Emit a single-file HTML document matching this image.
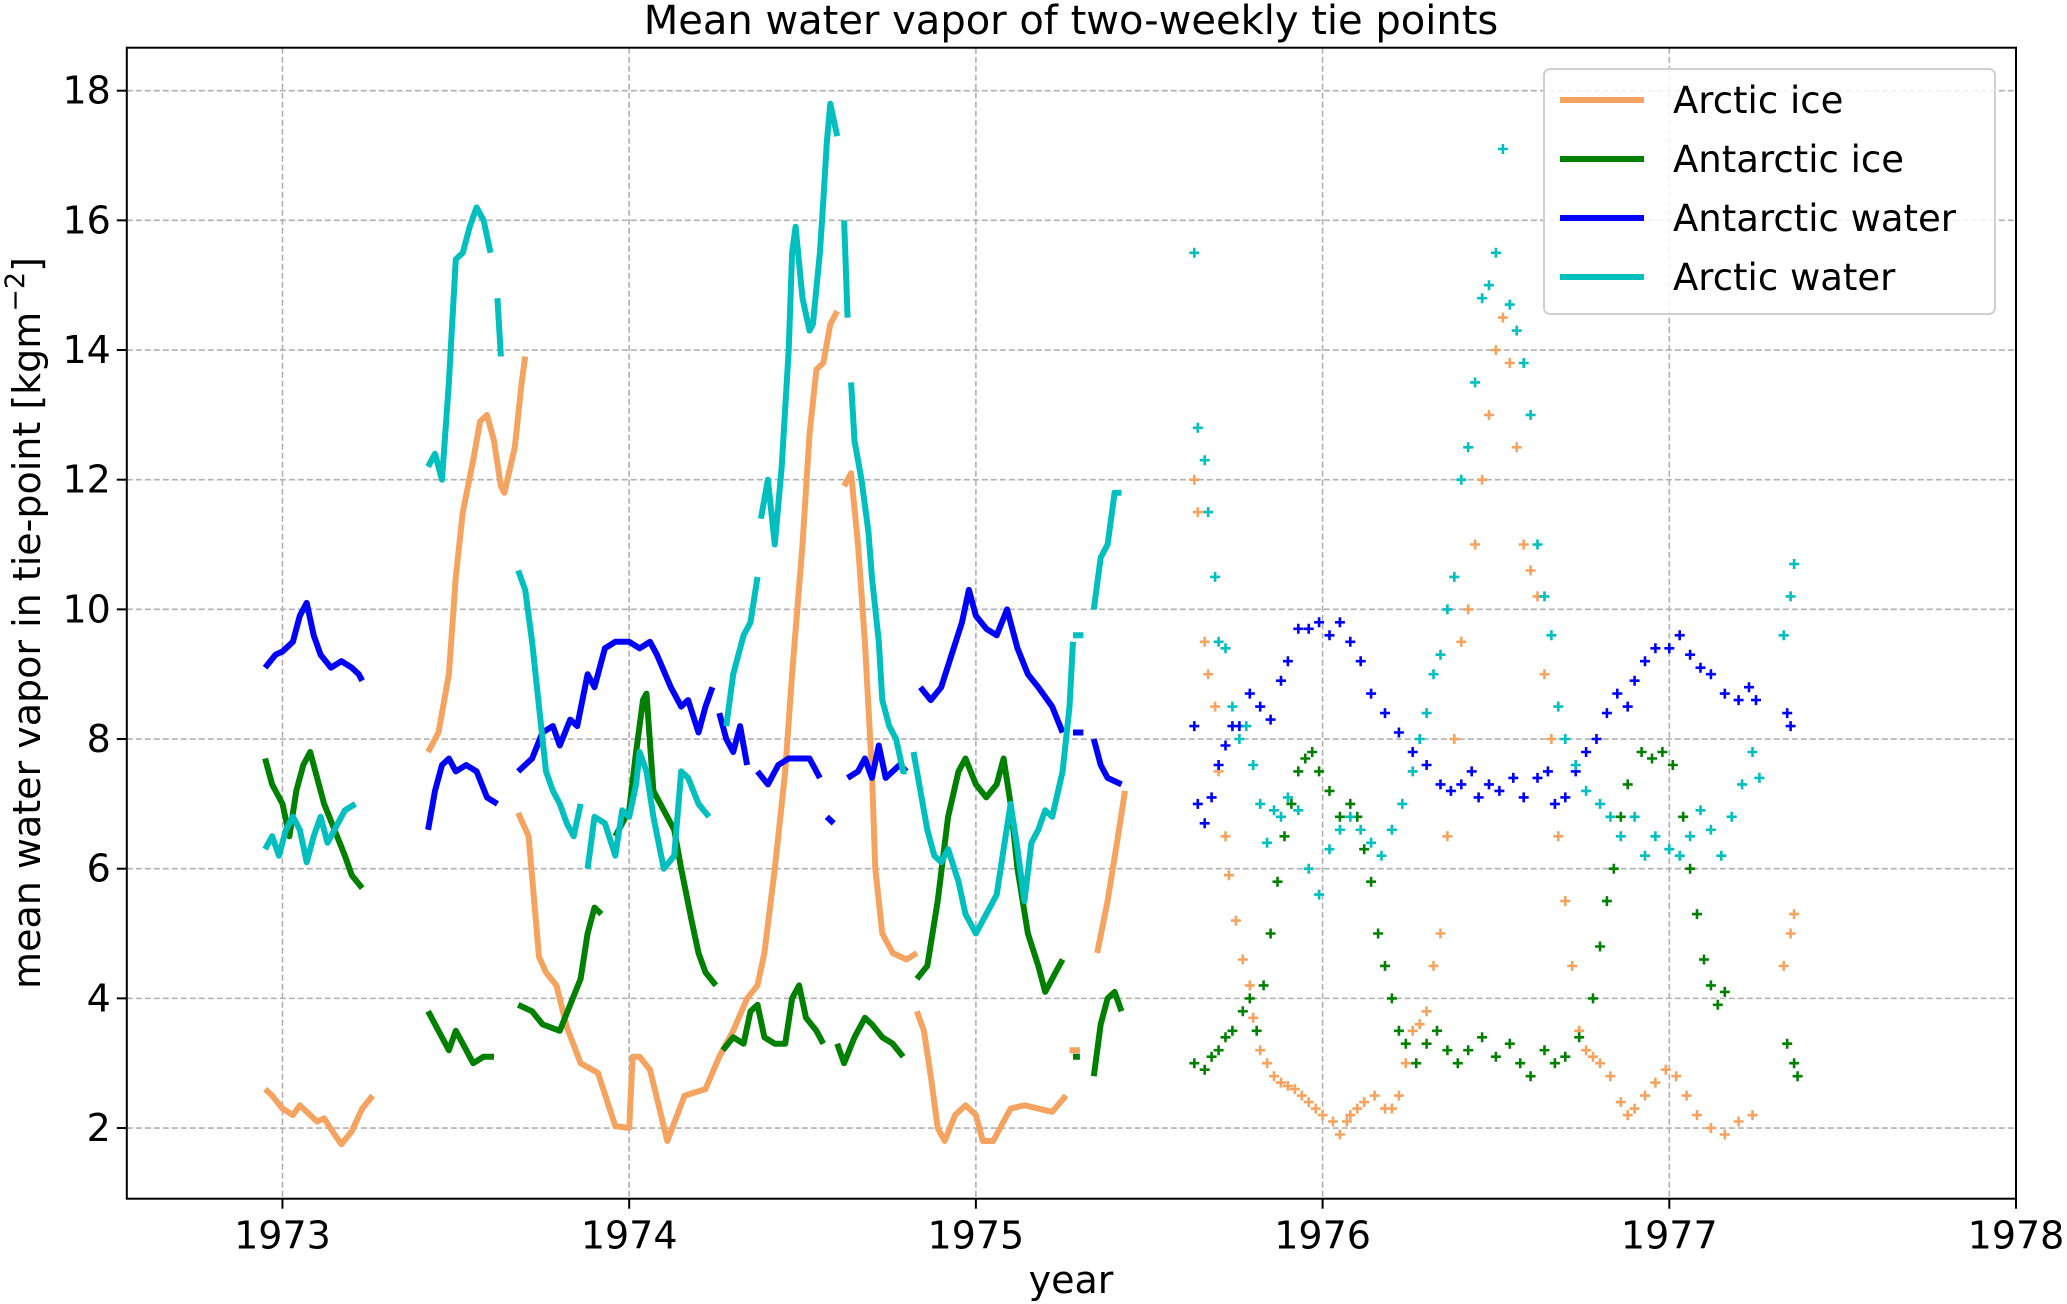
<!DOCTYPE html>
<html><head><meta charset="utf-8"><style>
html,body{margin:0;padding:0;background:#fff;}
svg{display:block;font-family:"DejaVu Sans","Liberation Sans",sans-serif;}
</style></head><body>
<svg id="chart" width="2067" height="1304" viewBox="0 0 2067 1304" xmlns="http://www.w3.org/2000/svg">
<rect width="2067" height="1304" fill="#fff"/>
<text x="1071" y="34" font-size="40" text-anchor="middle">Mean water vapor of two-weekly tie points</text>
<g id="grid"></g>
<g id="series"></g>
<rect x="126.8" y="47.7" width="1889.2" height="1151" fill="none" stroke="#000" stroke-width="2"/>
<g id="ticks"></g>
<text x="1071" y="1293" font-size="38" text-anchor="middle">year</text>
<text transform="translate(40,623) rotate(-90)" font-size="38" text-anchor="middle">mean water vapor in tie-point [kgm<tspan dy="-16" font-size="27">−2</tspan><tspan dy="16">]</tspan></text>
<g>
<rect x="1544" y="69" width="451" height="245" rx="6" fill="#fff" fill-opacity="0.85" stroke="#d0d0d0" stroke-width="2"/>
<line x1="1560" y1="100" x2="1644" y2="100" stroke="#f4a460" stroke-width="6"/>
<text x="1673" y="113" font-size="37">Arctic ice</text>
<line x1="1560" y1="159" x2="1644" y2="159" stroke="#008000" stroke-width="6"/>
<text x="1673" y="172" font-size="37">Antarctic ice</text>
<line x1="1560" y1="218" x2="1644" y2="218" stroke="#0000ff" stroke-width="6"/>
<text x="1673" y="231" font-size="37">Antarctic water</text>
<line x1="1560" y1="277" x2="1644" y2="277" stroke="#00bfbf" stroke-width="6"/>
<text x="1673" y="290" font-size="37">Arctic water</text>
</g>
</svg>
<script>
const xTicks=[1973,1974,1975,1976,1977,1978];
const yTicks=[2,4,6,8,10,12,14,16,18];
const seriesNames=["arctic-ice","antarctic-ice","antarctic-water","arctic-water"];
const seriesColors=["#f4a460","#008000","#0000ff","#00bfbf"];
const arcticIceLine=[[1972.95,2.6],[1972.97,2.5],[1973.0,2.3],[1973.03,2.2],[1973.05,2.35],[1973.08,2.2],[1973.1,2.1],[1973.12,2.15],[1973.15,1.9],[1973.17,1.75],[1973.2,1.95],[1973.23,2.3],[1973.26,2.5],null,
[1973.42,7.8],[1973.45,8.1],[1973.48,9],[1973.5,10.5],[1973.52,11.5],[1973.55,12.3],[1973.57,12.9],[1973.59,13.0],[1973.61,12.6],[1973.63,11.9],[1973.64,11.8],[1973.67,12.5],[1973.69,13.5],[1973.7,13.9],null,
[1973.68,6.86],[1973.71,6.5],[1973.74,4.64],[1973.76,4.4],[1973.79,4.2],[1973.82,3.56],[1973.86,3.0],[1973.91,2.85],[1973.96,2.03],[1974.0,2.0],[1974.01,3.1],[1974.03,3.1],[1974.06,2.9],[1974.11,1.8],[1974.16,2.5],[1974.22,2.6],[1974.26,3.1],[1974.3,3.5],[1974.34,4.0],[1974.37,4.2],[1974.39,4.7],[1974.42,6],[1974.45,7.5],[1974.47,9],[1974.5,11],[1974.52,12.7],[1974.54,13.7],[1974.56,13.8],[1974.58,14.4],[1974.6,14.6],null,
[1974.62,11.9],[1974.64,12.1],[1974.66,11],[1974.68,9.5],[1974.7,7.5],[1974.71,6],[1974.73,5],[1974.76,4.7],[1974.8,4.6],[1974.83,4.7],null,
[1974.83,3.8],[1974.85,3.5],[1974.87,2.8],[1974.89,2.0],[1974.91,1.8],[1974.94,2.2],[1974.97,2.35],[1975.0,2.2],[1975.02,1.8],[1975.05,1.8],[1975.08,2.1],[1975.1,2.3],[1975.14,2.35],[1975.18,2.3],[1975.22,2.25],[1975.26,2.5],null,
[1975.27,3.2],[1975.3,3.2],null,[1975.35,4.7],[1975.38,5.5],[1975.41,6.5],[1975.43,7.2]];
const antarcticIceLine=[[1972.95,7.7],[1972.97,7.3],[1973.0,7.0],[1973.02,6.5],[1973.04,7.2],[1973.06,7.6],[1973.08,7.8],[1973.1,7.4],[1973.12,7.0],[1973.15,6.6],[1973.18,6.2],[1973.2,5.9],[1973.23,5.7],null,
[1973.42,3.8],[1973.45,3.5],[1973.48,3.2],[1973.5,3.5],[1973.52,3.3],[1973.55,3.0],[1973.58,3.1],[1973.61,3.1],null,
[1973.68,3.9],[1973.72,3.8],[1973.75,3.6],[1973.8,3.5],[1973.83,3.9],[1973.86,4.3],[1973.88,5.0],[1973.9,5.4],[1973.92,5.3],null,
[1973.96,6.5],[1974.0,6.9],[1974.02,7.8],[1974.04,8.6],[1974.05,8.7],[1974.07,7.2],[1974.1,6.9],[1974.13,6.6],[1974.15,6.0],[1974.18,5.2],[1974.2,4.7],[1974.22,4.4],[1974.25,4.2],null,
[1974.27,3.2],[1974.3,3.4],[1974.33,3.3],[1974.35,3.8],[1974.37,3.9],[1974.39,3.4],[1974.42,3.3],[1974.45,3.3],[1974.47,4.0],[1974.49,4.2],[1974.51,3.7],[1974.54,3.5],[1974.56,3.3],null,
[1974.6,3.3],[1974.62,3.0],[1974.65,3.4],[1974.68,3.7],[1974.7,3.6],[1974.73,3.4],[1974.76,3.3],[1974.79,3.1],null,
[1974.83,4.3],[1974.86,4.5],[1974.89,5.5],[1974.92,6.8],[1974.95,7.5],[1974.97,7.7],[1975.0,7.3],[1975.03,7.1],[1975.06,7.3],[1975.08,7.7],[1975.1,7.0],[1975.12,6.0],[1975.15,5.0],[1975.18,4.5],[1975.2,4.1],[1975.23,4.4],[1975.25,4.6],null,
[1975.28,3.1],[1975.3,3.1],null,[1975.34,2.8],[1975.36,3.6],[1975.38,4.0],[1975.4,4.1],[1975.42,3.8]];
const antarcticWaterLine=[[1972.95,9.1],[1972.98,9.3],[1973.0,9.35],[1973.03,9.5],[1973.05,9.9],[1973.07,10.1],[1973.09,9.6],[1973.11,9.3],[1973.14,9.1],[1973.17,9.2],[1973.2,9.1],[1973.22,9.0],[1973.23,8.9],null,
[1973.42,6.6],[1973.44,7.2],[1973.46,7.6],[1973.48,7.7],[1973.5,7.5],[1973.53,7.6],[1973.56,7.5],[1973.59,7.1],[1973.62,7.0],null,
[1973.68,7.5],[1973.72,7.7],[1973.75,8.1],[1973.78,8.2],[1973.8,7.9],[1973.83,8.3],[1973.85,8.2],[1973.88,9.0],[1973.9,8.8],[1973.93,9.4],[1973.96,9.5],[1974.0,9.5],[1974.03,9.4],[1974.06,9.5],[1974.08,9.3],[1974.12,8.8],[1974.15,8.5],[1974.17,8.6],[1974.2,8.1],[1974.22,8.5],[1974.24,8.8],null,
[1974.26,8.4],[1974.28,8.0],[1974.3,7.8],[1974.32,8.2],[1974.34,7.6],null,[1974.37,7.5],[1974.4,7.3],[1974.43,7.6],[1974.46,7.7],[1974.49,7.7],[1974.52,7.7],[1974.55,7.4],null,[1974.57,6.8],[1974.59,6.7],null,
[1974.63,7.4],[1974.66,7.5],[1974.68,7.7],[1974.7,7.4],[1974.72,7.9],[1974.74,7.4],[1974.78,7.6],[1974.8,7.5],null,
[1974.84,8.8],[1974.87,8.6],[1974.9,8.8],[1974.93,9.3],[1974.96,9.8],[1974.98,10.3],[1975.0,9.9],[1975.03,9.7],[1975.06,9.6],[1975.09,10.0],[1975.12,9.4],[1975.15,9.0],[1975.18,8.8],[1975.22,8.5],[1975.25,8.1],null,[1975.28,8.1],[1975.31,8.1],null,[1975.34,8.0],[1975.36,7.6],[1975.38,7.4],[1975.42,7.3]];
const arcticWaterLine=[[1972.95,6.3],[1972.97,6.5],[1972.99,6.2],[1973.01,6.6],[1973.03,6.8],[1973.05,6.6],[1973.07,6.1],[1973.09,6.5],[1973.11,6.8],[1973.13,6.4],[1973.16,6.7],[1973.18,6.9],[1973.21,7.0],null,
[1973.42,12.2],[1973.44,12.4],[1973.46,12.0],[1973.48,13.5],[1973.5,15.4],[1973.52,15.5],[1973.54,15.9],[1973.56,16.2],[1973.58,16.0],[1973.6,15.5],null,[1973.62,14.8],[1973.63,13.9],null,
[1973.68,10.6],[1973.7,10.3],[1973.72,9.5],[1973.74,8.5],[1973.76,7.5],[1973.78,7.2],[1973.8,7.0],[1973.82,6.7],[1973.84,6.5],[1973.86,7.0],null,
[1973.88,6.0],[1973.9,6.8],[1973.93,6.7],[1973.96,6.2],[1973.98,6.9],[1974.0,6.8],[1974.02,7.3],[1974.03,7.8],[1974.05,7.5],[1974.07,6.8],[1974.1,6.0],[1974.13,6.2],[1974.15,7.5],[1974.17,7.4],[1974.2,7.0],[1974.23,6.8],null,
[1974.28,8.2],[1974.3,9],[1974.33,9.6],[1974.35,9.8],[1974.37,10.5],null,[1974.38,11.4],[1974.4,12.0],[1974.42,11.0],[1974.44,12.2],[1974.46,14],[1974.47,15.5],[1974.48,15.9],[1974.5,14.8],[1974.52,14.3],[1974.53,14.4],[1974.55,15.5],[1974.56,16.3],[1974.57,17.2],[1974.58,17.8],[1974.6,17.3],null,[1974.62,16.0],[1974.63,14.5],null,
[1974.64,13.5],[1974.65,12.6],[1974.67,12.0],[1974.69,11.2],[1974.7,10.5],[1974.72,9.5],[1974.73,8.6],[1974.75,8.2],[1974.77,8.0],[1974.79,7.5],[1974.8,7.5],null,
[1974.82,7.8],[1974.84,7.2],[1974.86,6.6],[1974.88,6.2],[1974.9,6.1],[1974.92,6.3],[1974.95,5.8],[1974.97,5.3],[1975.0,5.0],[1975.03,5.3],[1975.06,5.6],[1975.08,6.3],[1975.1,7.0],[1975.12,6.3],[1975.14,5.5],[1975.16,6.4],[1975.18,6.6],[1975.2,6.9],[1975.22,6.8],[1975.25,7.5],[1975.27,8.5],[1975.28,9.5],null,
[1975.28,9.6],[1975.31,9.6],null,[1975.34,10.0],[1975.36,10.8],[1975.38,11.0],[1975.4,11.8],[1975.42,11.8]];
const arcticIceMarks=[[1975.63,12.0],[1975.64,11.5],[1975.66,9.5],[1975.67,9.0],[1975.69,8.5],[1975.7,7.5],[1975.72,6.5],[1975.73,5.9],[1975.75,5.2],[1975.77,4.6],[1975.79,4.2],[1975.8,3.7],[1975.82,3.2],[1975.84,3.0],[1975.86,2.8],[1975.88,2.7],[1975.9,2.65],[1975.92,2.6],[1975.94,2.5],[1975.96,2.4],[1975.98,2.3],[1976.0,2.2],[1976.03,2.1],[1976.05,1.9],[1976.07,2.1],[1976.08,2.2],[1976.1,2.3],[1976.12,2.4],[1976.15,2.5],[1976.18,2.3],[1976.2,2.3],[1976.22,2.5],[1976.24,3.0],[1976.26,3.5],[1976.28,3.6],[1976.3,3.8],[1976.32,4.5],[1976.34,5],[1976.36,6.5],[1976.38,8],[1976.4,9.5],[1976.42,10],[1976.44,11],[1976.46,12],[1976.48,13],[1976.5,14],[1976.52,14.5],[1976.54,13.8],[1976.56,12.5],[1976.58,11],[1976.6,10.6],[1976.62,10.2],[1976.64,9],[1976.66,8],[1976.68,6.5],[1976.7,5.5],[1976.72,4.5],[1976.74,3.5],[1976.76,3.2],[1976.78,3.1],[1976.8,3.0],[1976.83,2.8],[1976.86,2.4],[1976.88,2.2],[1976.9,2.3],[1976.93,2.5],[1976.96,2.7],[1976.99,2.9],[1977.02,2.8],[1977.05,2.5],[1977.08,2.2],[1977.12,2.0],[1977.16,1.9],[1977.2,2.1],[1977.24,2.2],[1977.33,4.5],[1977.35,5.0],[1977.36,5.3]];
const antarcticIceMarks=[[1975.63,3.0],[1975.66,2.9],[1975.68,3.1],[1975.7,3.2],[1975.72,3.4],[1975.74,3.5],[1975.77,3.8],[1975.79,4.0],[1975.81,3.5],[1975.83,4.2],[1975.85,5],[1975.87,5.8],[1975.89,6.5],[1975.91,7.0],[1975.93,7.5],[1975.95,7.7],[1975.97,7.8],[1975.99,7.5],[1976.02,7.2],[1976.05,6.8],[1976.08,7.0],[1976.1,6.8],[1976.12,6.3],[1976.14,5.8],[1976.16,5.0],[1976.18,4.5],[1976.2,4.0],[1976.22,3.5],[1976.24,3.3],[1976.27,3.0],[1976.3,3.3],[1976.33,3.5],[1976.36,3.2],[1976.39,3.0],[1976.42,3.2],[1976.46,3.4],[1976.5,3.1],[1976.54,3.3],[1976.57,3.0],[1976.6,2.8],[1976.64,3.2],[1976.67,3.0],[1976.7,3.1],[1976.74,3.4],[1976.78,4.0],[1976.8,4.8],[1976.82,5.5],[1976.84,6.0],[1976.86,6.8],[1976.88,7.3],[1976.92,7.8],[1976.95,7.7],[1976.98,7.8],[1977.01,7.6],[1977.04,6.8],[1977.06,6.0],[1977.08,5.3],[1977.1,4.6],[1977.12,4.2],[1977.14,3.9],[1977.16,4.1],[1977.34,3.3],[1977.36,3.0],[1977.37,2.8]];
const antarcticWaterMarks=[[1975.63,8.2],[1975.64,7.0],[1975.66,6.7],[1975.68,7.1],[1975.7,7.6],[1975.72,7.9],[1975.74,8.2],[1975.76,8.2],[1975.79,8.7],[1975.82,8.5],[1975.85,8.3],[1975.88,8.9],[1975.9,9.2],[1975.93,9.7],[1975.96,9.7],[1975.99,9.8],[1976.02,9.6],[1976.05,9.8],[1976.08,9.5],[1976.11,9.2],[1976.14,8.7],[1976.18,8.4],[1976.22,8.1],[1976.26,7.8],[1976.3,7.6],[1976.34,7.3],[1976.37,7.2],[1976.4,7.3],[1976.43,7.5],[1976.45,7.1],[1976.48,7.3],[1976.51,7.2],[1976.55,7.4],[1976.58,7.1],[1976.62,7.4],[1976.65,7.5],[1976.67,7.0],[1976.7,7.1],[1976.73,7.5],[1976.76,7.8],[1976.79,8.0],[1976.82,8.4],[1976.85,8.7],[1976.88,8.5],[1976.9,8.9],[1976.93,9.2],[1976.96,9.4],[1977.0,9.4],[1977.03,9.6],[1977.06,9.3],[1977.09,9.1],[1977.12,9.0],[1977.16,8.7],[1977.2,8.6],[1977.23,8.8],[1977.25,8.6],[1977.34,8.4],[1977.35,8.2]];
const arcticWaterMarks=[[1975.63,15.5],[1975.64,12.8],[1975.66,12.3],[1975.67,11.5],[1975.69,10.5],[1975.7,9.5],[1975.72,9.4],[1975.74,8.5],[1975.76,8.0],[1975.78,8.2],[1975.8,7.6],[1975.82,7.0],[1975.84,6.4],[1975.86,6.9],[1975.88,6.8],[1975.9,7.1],[1975.93,6.9],[1975.96,6.0],[1975.99,5.6],[1976.02,6.3],[1976.05,6.6],[1976.08,6.8],[1976.11,6.6],[1976.14,6.4],[1976.17,6.2],[1976.2,6.6],[1976.23,7.0],[1976.26,7.5],[1976.28,8.0],[1976.3,8.4],[1976.32,9.0],[1976.34,9.3],[1976.36,10.0],[1976.38,10.5],[1976.4,12.0],[1976.42,12.5],[1976.44,13.5],[1976.46,14.8],[1976.48,15.0],[1976.5,15.5],[1976.52,17.1],[1976.54,14.7],[1976.56,14.3],[1976.58,13.8],[1976.6,13.0],[1976.62,11.0],[1976.64,10.2],[1976.66,9.6],[1976.68,8.5],[1976.7,8.0],[1976.73,7.6],[1976.76,7.2],[1976.8,7.0],[1976.83,6.8],[1976.86,6.5],[1976.9,6.8],[1976.93,6.2],[1976.96,6.5],[1977.0,6.3],[1977.03,6.2],[1977.06,6.5],[1977.09,6.9],[1977.12,6.6],[1977.15,6.2],[1977.18,6.8],[1977.21,7.3],[1977.24,7.8],[1977.26,7.4],[1977.33,9.6],[1977.35,10.2],[1977.36,10.7]];

const NS="http://www.w3.org/2000/svg";
const L=126.8,R=2016,T=47.7,B=1198.7;
const X0=1972.551,X1=1978.0,Y0=0.91,Y1=18.663;
function xs(v){return L+(v-X0)/(X1-X0)*(R-L);}
function ys(v){return B-(v-Y0)/(Y1-Y0)*(B-T);}
function mk(tag,attrs,parent){const e=document.createElementNS(NS,tag);for(const k in attrs)e.setAttribute(k,attrs[k]);parent.appendChild(e);return e;}
const grid=document.getElementById('grid'),ticks=document.getElementById('ticks'),ser=document.getElementById('series');
xTicks.forEach(t=>{
  const g=mk('line',{x1:xs(t),x2:xs(t),y1:T,y2:B,stroke:'#b0b0b0','stroke-width':1.6,'stroke-dasharray':'6,3'},grid);
  
  
  const tk=mk('line',{x1:xs(t),x2:xs(t),y1:B,y2:B+10,stroke:'#000','stroke-width':2},ticks);
  
  
  const tx=mk('text',{x:xs(t),y:B+50,'font-size':38,'text-anchor':'middle'},ticks);
  tx.textContent=t;
  
  
});
yTicks.forEach(t=>{
  const g=mk('line',{x1:L,x2:R,y1:ys(t),y2:ys(t),stroke:'#b0b0b0','stroke-width':1.6,'stroke-dasharray':'6,3'},grid);
  
  
  const tk=mk('line',{x1:L-10,x2:L,y1:ys(t),y2:ys(t),stroke:'#000','stroke-width':2},ticks);
  
  
  const tx=mk('text',{x:L-16,y:ys(t)+13,'font-size':38,'text-anchor':'end'},ticks);
  tx.textContent=t;
  
  
});
const lineData=[arcticIceLine,antarcticIceLine,antarcticWaterLine,arcticWaterLine];
const markData=[arcticIceMarks,antarcticIceMarks,antarcticWaterMarks,arcticWaterMarks];
lineData.forEach((arr,i)=>{
  let d='',pen=false;
  arr.forEach(p=>{
    if(!p){pen=false;return;}
    d+=(pen?'L':'M')+xs(p[0]).toFixed(1)+' '+ys(p[1]).toFixed(1);
    pen=true;
  });
  const path=mk('path',{d:d,fill:'none',stroke:seriesColors[i],'stroke-width':6,'stroke-linejoin':'round'},ser);
  
  
});
markData.forEach((arr,i)=>{
  let d='';
  arr.forEach(p=>{
    const x=xs(p[0]),y=ys(p[1]);
    d+='M'+(x-5).toFixed(1)+' '+y.toFixed(1)+'h10M'+x.toFixed(1)+' '+(y-5).toFixed(1)+'v10';
  });
  const path=mk('path',{d:d,fill:'none',stroke:seriesColors[i],'stroke-width':2.6},ser);
  
  
});
</script>
</body></html>
